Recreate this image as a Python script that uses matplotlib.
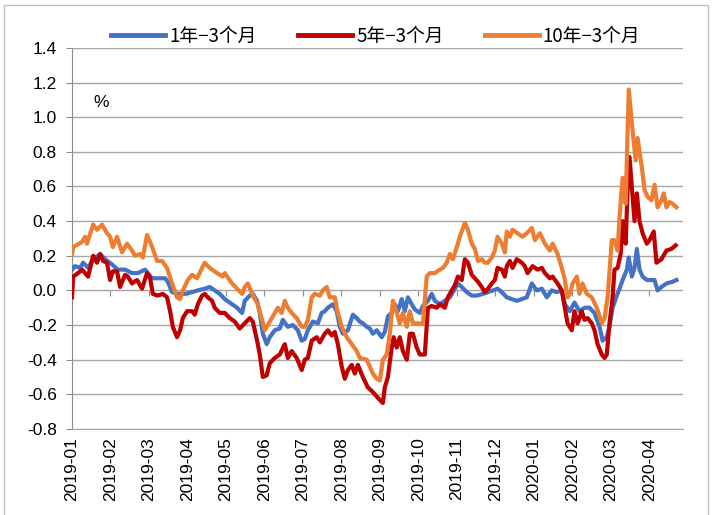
import matplotlib
matplotlib.use("Agg")
import matplotlib.pyplot as plt
from matplotlib.patches import Rectangle
from matplotlib.ticker import FixedLocator, FuncFormatter

plt.rcParams["font.family"] = ["Liberation Sans", "Noto Sans CJK SC", "DejaVu Sans"]

# --------------------------------------------------
# DATA  (t = months since 2019-01, values in %)
# --------------------------------------------------
month_labels = ["2019-01", "2019-02", "2019-03", "2019-04", "2019-05", "2019-06",
                "2019-07", "2019-08", "2019-09", "2019-10", "2019-11", "2019-12",
                "2020-01", "2020-02", "2020-03", "2020-04"]

series_names = ["1年−3个月", "5年−3个月", "10年−3个月"]

t_1y = [0.00, 0.08, 0.21, 0.29, 0.42, 0.55, 0.73, 0.86, 1.04, 1.19, 1.38, 1.56, 1.71, 1.90,
        2.08, 2.23, 2.42, 2.49, 2.60, 2.75, 2.94, 3.12, 3.27, 3.45, 3.58, 3.71, 3.84, 3.97,
        4.16, 4.29, 4.42, 4.49, 4.62, 4.70, 4.81, 4.88, 4.96, 5.06, 5.14, 5.27, 5.40, 5.48,
        5.61, 5.74, 5.87, 5.97, 6.05, 6.13, 6.26, 6.39, 6.49, 6.57, 6.65, 6.78, 6.88, 6.96,
        7.04, 7.17, 7.30, 7.40, 7.48, 7.56, 7.66, 7.74, 7.82, 7.92, 8.05, 8.13, 8.21, 8.31,
        8.39, 8.47, 8.57, 8.65, 8.73, 8.83, 8.91, 9.04, 9.12, 9.25, 9.35, 9.43, 9.56, 9.69,
        9.82, 9.95, 10.03, 10.13, 10.26, 10.39, 10.52, 10.68, 10.81, 10.94, 11.06, 11.17,
        11.30, 11.43, 11.56, 11.69, 11.82, 11.95, 12.08, 12.21, 12.34, 12.47, 12.60, 12.73,
        12.81, 12.94, 13.06, 13.19, 13.32, 13.45, 13.58, 13.71, 13.79, 13.90, 13.97, 14.05,
        14.16, 14.23, 14.31, 14.42, 14.47, 14.55, 14.62, 14.68, 14.75, 14.83, 14.94, 15.06,
        15.14, 15.22, 15.32, 15.45, 15.61, 15.71]
v_1y = [0.12, 0.14, 0.13, 0.16, 0.13, 0.18, 0.21, 0.18, 0.15, 0.12, 0.12, 0.10, 0.10, 0.12,
        0.07, 0.07, 0.07, 0.05, -0.01, -0.02, -0.02, -0.01, 0.00, 0.01, 0.02, 0.00, -0.02, -0.05,
        -0.08, -0.10, -0.13, -0.06, -0.03, -0.02, -0.06, -0.13, -0.25, -0.31, -0.27, -0.23, -0.22, -0.17,
        -0.21, -0.20, -0.23, -0.29, -0.28, -0.23, -0.18, -0.19, -0.13, -0.12, -0.10, -0.08, -0.12, -0.21,
        -0.25, -0.23, -0.14, -0.16, -0.18, -0.19, -0.21, -0.22, -0.25, -0.23, -0.27, -0.24, -0.15, -0.13,
        -0.08, -0.12, -0.05, -0.12, -0.04, -0.08, -0.11, -0.13, -0.09, -0.06, -0.02, -0.06, -0.08, -0.06,
        -0.04, 0.01, 0.04, 0.02, -0.01, -0.03, -0.03, -0.02, -0.01, 0.00, 0.01, -0.01,
        -0.04, -0.05, -0.06, -0.05, -0.04, 0.04, 0.00, 0.01, -0.04, 0.00, -0.01, 0.00,
        -0.08, -0.12, -0.07, -0.12, -0.10, -0.10, -0.13, -0.21, -0.29, -0.27, -0.21, -0.10,
        -0.03, 0.01, 0.06, 0.12, 0.19, 0.08, 0.13, 0.24, 0.12, 0.08, 0.06, 0.06,
        0.06, 0.00, 0.02, 0.04, 0.05, 0.06]

t_5y = [0.00, 0.03, 0.16, 0.26, 0.34, 0.42, 0.55, 0.65, 0.73, 0.81, 0.91, 0.99, 1.06, 1.17,
        1.25, 1.38, 1.45, 1.56, 1.69, 1.82, 1.95, 2.03, 2.10, 2.23, 2.36, 2.47, 2.55, 2.62,
        2.73, 2.81, 2.88, 2.99, 3.12, 3.19, 3.27, 3.38, 3.45, 3.53, 3.64, 3.71, 3.84, 3.97,
        4.10, 4.23, 4.36, 4.49, 4.62, 4.70, 4.81, 4.88, 4.96, 5.06, 5.14, 5.27, 5.40, 5.53,
        5.61, 5.71, 5.84, 5.97, 6.05, 6.13, 6.23, 6.36, 6.44, 6.57, 6.65, 6.75, 6.83, 6.91,
        7.01, 7.09, 7.17, 7.27, 7.35, 7.43, 7.56, 7.69, 7.79, 7.87, 7.95, 8.08, 8.13, 8.21,
        8.31, 8.36, 8.44, 8.52, 8.60, 8.70, 8.78, 8.86, 8.96, 9.04, 9.17, 9.25, 9.35, 9.48,
        9.56, 9.69, 9.77, 9.87, 9.95, 10.03, 10.13, 10.21, 10.29, 10.39, 10.47, 10.55, 10.65,
        10.73, 10.81, 10.91, 10.99, 11.06, 11.17, 11.25, 11.30, 11.38, 11.45, 11.56, 11.69,
        11.77, 11.84, 11.97, 12.10, 12.21, 12.29, 12.42, 12.49, 12.62, 12.73, 12.81, 12.88,
        12.99, 13.06, 13.14, 13.25, 13.32, 13.40, 13.51, 13.58, 13.66, 13.77, 13.84, 13.90,
        13.97, 14.05, 14.10, 14.18, 14.26, 14.31, 14.39, 14.44, 14.49, 14.55, 14.62, 14.68,
        14.75, 14.83, 14.94, 15.01, 15.12, 15.19, 15.32, 15.45, 15.58, 15.69]
v_5y = [-0.04, 0.08, 0.10, 0.12, 0.10, 0.08, 0.20, 0.16, 0.21, 0.17, 0.16, 0.06, 0.11, 0.11,
        0.02, 0.09, 0.08, 0.04, 0.06, 0.01, 0.10, 0.07, -0.02, -0.03, -0.02, -0.04, -0.12, -0.21,
        -0.27, -0.23, -0.16, -0.12, -0.12, -0.14, -0.08, -0.03, -0.02, -0.04, -0.06, -0.10, -0.13, -0.13,
        -0.16, -0.18, -0.22, -0.19, -0.16, -0.18, -0.29, -0.37, -0.50, -0.49, -0.42, -0.39, -0.37, -0.31,
        -0.39, -0.35, -0.39, -0.46, -0.40, -0.39, -0.29, -0.27, -0.30, -0.25, -0.23, -0.26, -0.24, -0.31,
        -0.44, -0.51, -0.46, -0.43, -0.48, -0.43, -0.50, -0.56, -0.58, -0.60, -0.62, -0.65, -0.56, -0.50,
        -0.33, -0.27, -0.33, -0.27, -0.35, -0.40, -0.25, -0.25, -0.33, -0.37, -0.37, -0.10, -0.09, -0.10,
        -0.08, -0.10, -0.04, 0.00, 0.03, 0.08, 0.06, 0.18, 0.16, 0.09, 0.07, 0.05, 0.02,
        -0.01, 0.01, 0.04, 0.06, 0.13, 0.12, 0.08, 0.14, 0.17, 0.13, 0.18, 0.16,
        0.14, 0.10, 0.14, 0.12, 0.13, 0.10, 0.07, 0.08, 0.04, 0.00, -0.10, -0.19,
        -0.23, -0.12, -0.19, -0.12, -0.17, -0.16, -0.19, -0.23, -0.31, -0.37, -0.39, -0.37,
        -0.19, -0.04, 0.12, 0.13, 0.21, 0.40, 0.27, 0.58, 0.77, 0.60, 0.40, 0.56,
        0.40, 0.33, 0.27, 0.29, 0.34, 0.16, 0.18, 0.23, 0.24, 0.26]

t_10y = [0.00, 0.03, 0.26, 0.34, 0.39, 0.55, 0.65, 0.78, 0.91, 0.99, 1.06, 1.17, 1.30, 1.43,
         1.56, 1.64, 1.77, 1.84, 1.95, 2.03, 2.10, 2.21, 2.34, 2.47, 2.60, 2.73, 2.81, 2.88,
         3.01, 3.12, 3.25, 3.38, 3.45, 3.53, 3.64, 3.77, 3.92, 3.97, 4.16, 4.29, 4.42, 4.49,
         4.57, 4.70, 4.83, 4.94, 5.01, 5.14, 5.27, 5.35, 5.45, 5.53, 5.61, 5.71, 5.84, 5.97,
         6.05, 6.13, 6.23, 6.31, 6.44, 6.52, 6.62, 6.70, 6.83, 6.91, 7.01, 7.14, 7.27, 7.40,
         7.48, 7.66, 7.82, 7.92, 8.00, 8.08, 8.18, 8.26, 8.31, 8.34, 8.44, 8.52, 8.60, 8.70,
         8.78, 8.86, 8.99, 9.12, 9.22, 9.30, 9.43, 9.56, 9.64, 9.74, 9.82, 9.90, 10.00, 10.08,
         10.21, 10.29, 10.39, 10.47, 10.55, 10.65, 10.73, 10.81, 10.91, 10.99, 11.06, 11.17,
         11.25, 11.30, 11.38, 11.45, 11.58, 11.71, 11.82, 11.95, 12.03, 12.16, 12.29, 12.42,
         12.49, 12.62, 12.73, 12.81, 12.88, 12.94, 13.01, 13.12, 13.19, 13.27, 13.38, 13.51,
         13.64, 13.77, 13.84, 13.92, 14.03, 14.10, 14.18, 14.23, 14.31, 14.39, 14.47, 14.57,
         14.65, 14.70, 14.81, 14.88, 14.96, 15.06, 15.14, 15.22, 15.32, 15.38, 15.45, 15.53,
         15.61, 15.71]
v_10y = [0.21, 0.25, 0.28, 0.31, 0.27, 0.38, 0.35, 0.38, 0.33, 0.31, 0.25, 0.31, 0.22, 0.27,
         0.23, 0.20, 0.21, 0.19, 0.32, 0.28, 0.24, 0.17, 0.17, 0.13, 0.04, -0.04, -0.05, 0.00,
         0.06, 0.09, 0.07, 0.13, 0.16, 0.14, 0.12, 0.10, 0.08, 0.10, 0.04, 0.01, -0.02, 0.02,
         0.04, -0.03, -0.08, -0.17, -0.23, -0.18, -0.13, -0.10, -0.13, -0.06, -0.10, -0.13, -0.16, -0.21,
         -0.21, -0.17, -0.04, -0.02, -0.03, 0.00, 0.02, -0.04, -0.04, -0.13, -0.21, -0.27, -0.31, -0.35,
         -0.39, -0.40, -0.48, -0.51, -0.52, -0.40, -0.37, -0.25, -0.13, -0.06, -0.13, -0.19, -0.13, -0.21,
         -0.12, -0.19, -0.19, -0.19, 0.08, 0.10, 0.10, 0.12, 0.13, 0.16, 0.21, 0.18, 0.25, 0.31,
         0.39, 0.35, 0.27, 0.24, 0.17, 0.18, 0.16, 0.16, 0.19, 0.23, 0.31, 0.27,
         0.22, 0.34, 0.31, 0.35, 0.33, 0.31, 0.33, 0.36, 0.29, 0.33, 0.27, 0.23,
         0.27, 0.21, 0.13, 0.06, -0.04, -0.02, 0.04, 0.08, -0.02, 0.04, -0.02, -0.04,
         -0.10, -0.19, -0.16, -0.04, 0.29, 0.29, 0.23, 0.42, 0.65, 0.50, 1.16, 0.92,
         0.75, 0.88, 0.71, 0.58, 0.54, 0.52, 0.61, 0.48, 0.52, 0.56, 0.48, 0.51,
         0.50, 0.48]

y_ticks = [-0.8, -0.6, -0.4, -0.2, 0.0, 0.2, 0.4, 0.6, 0.8, 1.0, 1.2, 1.4]

colors = ["#4472C4", "#C00000", "#ED7D31"]

# --------------------------------------------------
# PLOT
# --------------------------------------------------
fig = plt.figure(figsize=(7.15, 5.15), dpi=100)
ax = fig.add_axes([0.1007, 0.167, 0.854, 0.740])

for (t, v), name, c in zip([(t_1y, v_1y), (t_5y, v_5y), (t_10y, v_10y)], series_names, colors):
    ax.plot(t, v, color=c, linewidth=3.0, label=name, solid_joinstyle="round", zorder=3)

ax.set_xlim(0, 15.87)
ax.set_ylim(-0.8, 1.4)
ax.yaxis.set_major_locator(FixedLocator(y_ticks))
ax.yaxis.set_major_formatter(FuncFormatter(lambda y, _: "%.1f" % y))
ax.grid(axis="y", color="#A6A6A6", linewidth=1.0, zorder=0)
ax.set_axisbelow(True)

for s in ["top", "right"]:
    ax.spines[s].set_visible(False)
ax.spines["left"].set_color("#8C8C8C")
ax.spines["bottom"].set_color("#A6A6A6")
ax.tick_params(axis="y", direction="out", length=4, color="#8C8C8C", labelsize=12.5, pad=7)

# month labels along the bottom, no tick marks there
ax.set_xticks(range(len(month_labels)))
ax.set_xticklabels(month_labels, rotation=90, fontsize=12.5)
ax.tick_params(axis="x", length=0, pad=6)

# tick marks sit on the zero line
zero_ax = ax.secondary_xaxis(0.8 / 2.2)
zero_ax.set_xticks(range(len(month_labels)))
zero_ax.set_xticklabels([])
zero_ax.tick_params(direction="out", length=4, color="#8C8C8C")
zero_ax.spines["bottom"].set_visible(False)

ax.text(0.035, 0.858, "%", transform=ax.transAxes, fontsize=12.5, va="center")

leg = ax.legend(loc="center", bbox_to_anchor=(0.4975, 1.03), ncol=3, frameon=False,
                handlelength=2.9, handletextpad=0.2, columnspacing=2.2,
                prop={"family": ["Noto Sans CJK SC", "DejaVu Sans"], "size": 13.5})
for line in leg.get_lines():
    line.set_linewidth(3.5)

fig.patches.append(Rectangle((0.005, -0.02), 0.985, 1.01, transform=fig.transFigure,
                             fill=False, edgecolor="#BFBFBF", linewidth=1.0))

plt.savefig("out.png", dpi=100)
plt.close()
